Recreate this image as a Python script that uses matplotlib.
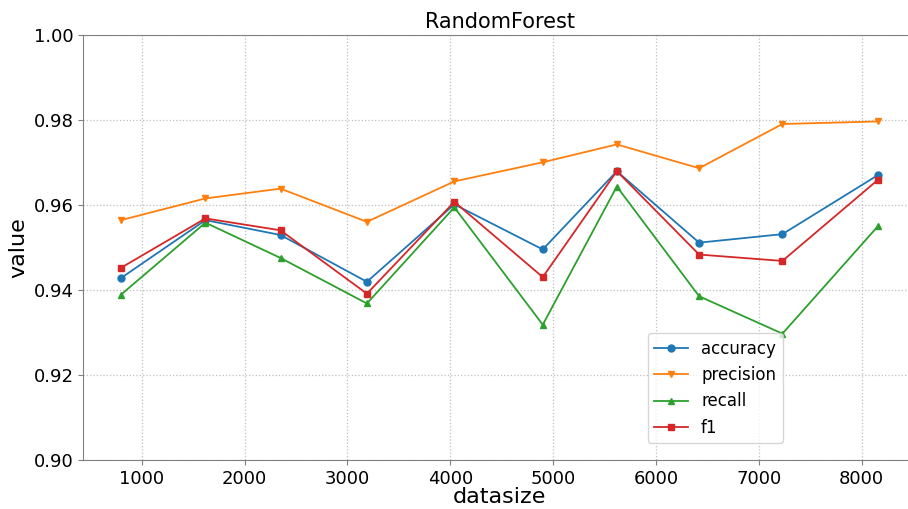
import matplotlib.pyplot as plt

datasize = [800, 1620, 2350, 3190, 4040, 4900, 5620, 6420, 7230, 8160]
accuracy = [0.9429, 0.9565, 0.9530, 0.9420, 0.9602, 0.9496, 0.9680, 0.9512, 0.9532, 0.9671]
precision = [0.9565, 0.9616, 0.9639, 0.9561, 0.9656, 0.9701, 0.9743, 0.9687, 0.9791, 0.9797]
recall = [0.9390, 0.9559, 0.9476, 0.9369, 0.9595, 0.9319, 0.9644, 0.9386, 0.9298, 0.9551]
f1 = [0.9453, 0.9569, 0.9541, 0.9392, 0.9608, 0.9431, 0.9680, 0.9484, 0.9469, 0.9660]

fig = plt.figure(figsize=(9.08, 5.09), dpi=100)
ax = fig.add_axes([0.0917, 0.0955, 0.917, 0.8355])

ax.plot(datasize, accuracy, marker='o', markersize=5, lw=1.3, label='accuracy')
ax.plot(datasize, precision, marker='v', markersize=5, lw=1.3, label='precision')
ax.plot(datasize, recall, marker='^', markersize=5, lw=1.3, label='recall')
ax.plot(datasize, f1, marker='s', markersize=5, lw=1.3, label='f1')

ax.set_ylim(0.90, 1.00)
ax.set_yticks([0.90, 0.92, 0.94, 0.96, 0.98, 1.00])
ax.grid(True, linestyle=':', color='0.75', linewidth=0.9)
for s in ax.spines.values():
    s.set_color('0.5')
# the original is cropped on the right, no right spine visible
ax.spines['right'].set_visible(False)
ax.tick_params(labelsize=13, color='0.5')

ax.set_title('RandomForest', fontsize=15, pad=5)
ax.set_xlabel('datasize', fontsize=16, labelpad=-1)
ax.set_ylabel('value', fontsize=16)
ax.legend(loc='lower right', bbox_to_anchor=(0.84, 0.04), borderaxespad=0, fontsize=12)

fig.savefig('out.png', dpi=100)
